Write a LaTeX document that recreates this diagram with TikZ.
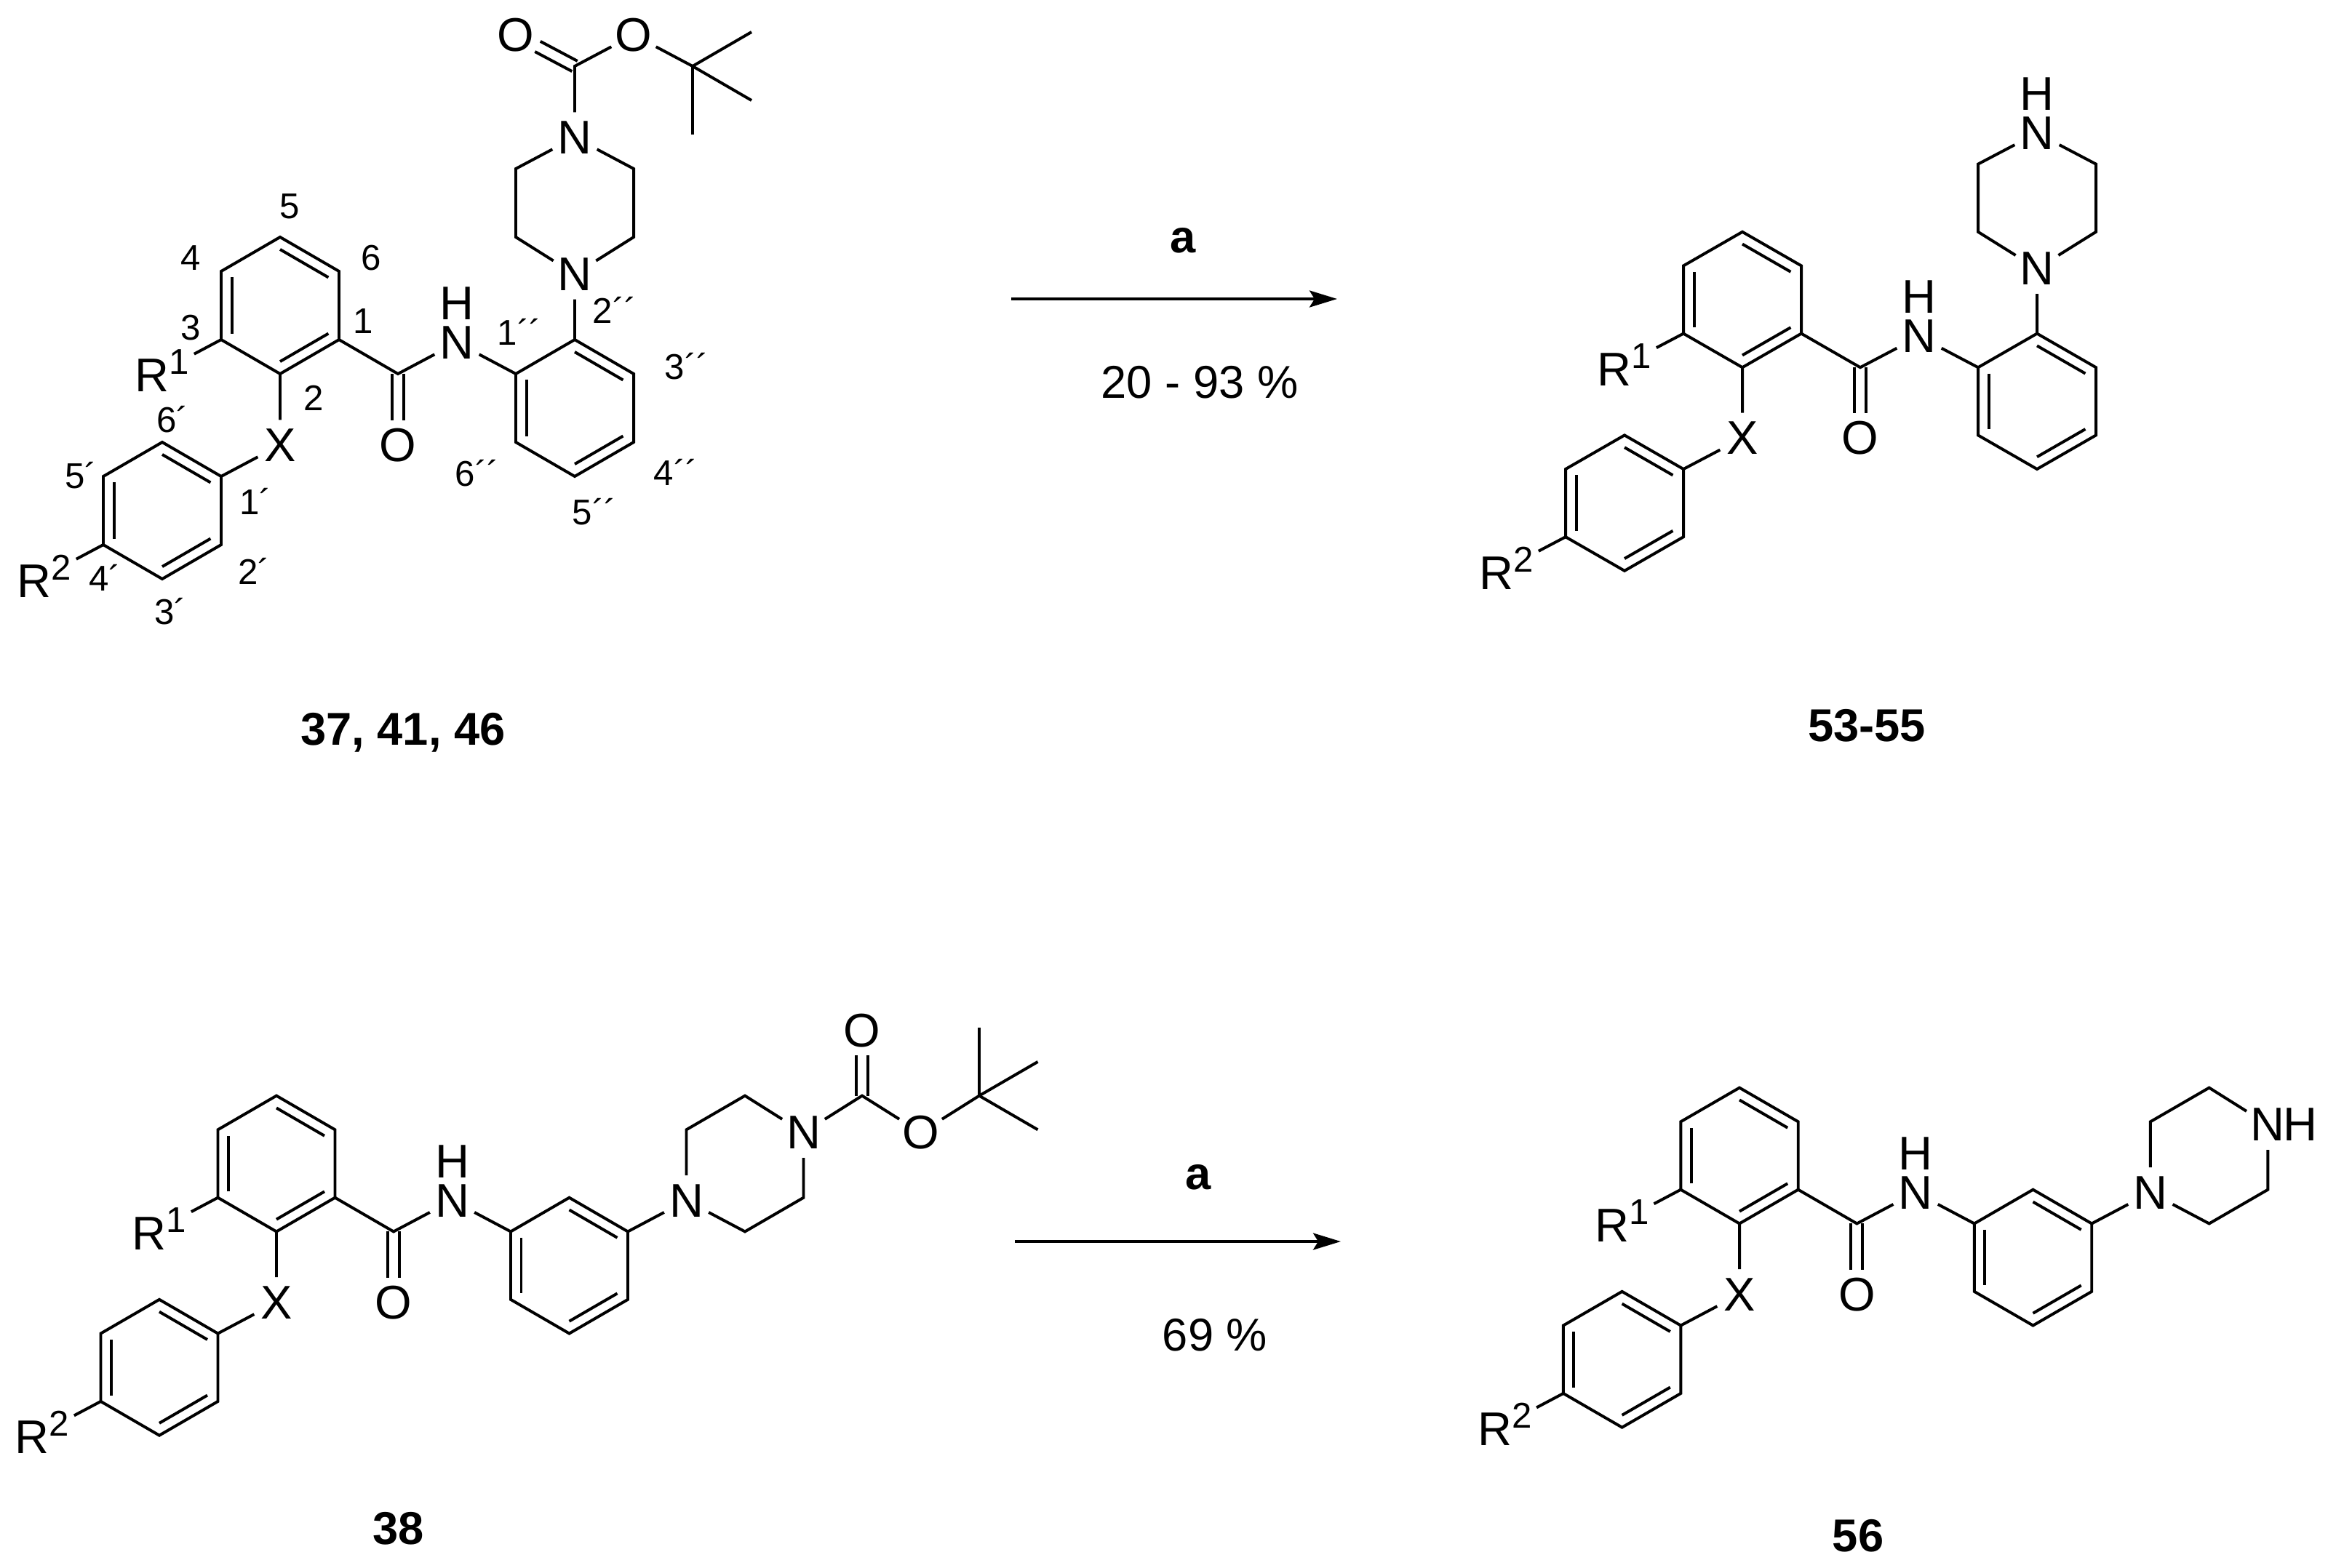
\documentclass[tikz,border=0pt]{standalone}
\usepackage{fontspec}
\setmainfont{Liberation Sans}
\usetikzlibrary{calc,arrows.meta}
\tikzstyle{bond} = [line width=1.13pt, line join=miter]
\tikzstyle{atom} = [circle, inner sep=0pt, minimum size=0.68cm, yshift=-0.04cm, font=\fontsize{18.5}{22}\selectfont]
\tikzstyle{rgroup} = [rectangle, inner sep=0.06cm, yshift=0.04cm, font=\fontsize{18.5}{22}\selectfont]
\tikzstyle{locant} = [inner sep=0pt, font=\fontsize{14}{17}\selectfont]
\tikzstyle{compound} = [inner sep=0pt, font=\fontsize{18}{22}\selectfont\bfseries]
\tikzstyle{yieldtext} = [inner sep=0pt, font=\fontsize{18}{22}\selectfont]
\tikzstyle{line} = [line width=1.13pt, -{Stealth[length=0.38cm,width=0.23cm,inset=0.07cm]}]
\newcommand{\rlabel}[1]{R\raisebox{0.24cm}{\fontsize{14}{17}\selectfont #1}}
\newcommand{\ringbond}[3]{\draw[bond] ($(#1)!0.18!(#3)$) -- ($(#2)!0.18!(#3)$);}
\newcommand{\keto}[2]{
    \draw[bond, shorten >=0.34cm] ($(#1)!0.08cm!90:(#2)$) -- ($(#2)!0.08cm!-90:(#1)$);
    \draw[bond, shorten >=0.34cm] ($(#1)!0.08cm!-90:(#2)$) -- ($(#2)!0.08cm!90:(#1)$);
}
\newcommand{\benzamide}{
    \coordinate (Acen) at (0,0);
    \coordinate (A1) at (1,1);
    \coordinate (A2) at (0,2);
    \coordinate (A3) at (-1,1);
    \coordinate (A4) at (-1,-1);
    \coordinate (A5) at (0,-2);
    \coordinate (A6) at (1,-1);
    \coordinate (Bcen) at (-2,6);
    \coordinate (B1) at (-1,5);
    \coordinate (B2) at (-1,7);
    \coordinate (B3) at (-2,8);
    \coordinate (B4) at (-3,7);
    \coordinate (B5) at (-3,5);
    \coordinate (B6) at (-2,4);
    \coordinate (Ccen) at (5,3);
    \coordinate (C1) at (4,2);
    \coordinate (C2) at (5,1);
    \coordinate (C3) at (6,2);
    \coordinate (C4) at (6,4);
    \coordinate (C5) at (5,5);
    \coordinate (C6) at (4,4);
    \coordinate (Carbonyl) at (2,2);
    \node[atom] (Oxo) at (2,4) {O};
    \node[atom] (Namide) at (3,1) {N};
    \node[atom, above of=Namide, node distance=0.58cm] (Hamide) {H};
    \node[atom] (Link) at (0,4) {X};
    \node[rgroup] (Rone) at (-2,2) {\rlabel{1}};
    \node[rgroup] (Rtwo) at (-4,8) {\rlabel{2}};
    \draw[bond] (A1) -- (A2) -- (A3) -- (A4) -- (A5) -- (A6) -- cycle;
    \draw[bond] (B1) -- (B2) -- (B3) -- (B4) -- (B5) -- (B6) -- cycle;
    \draw[bond] (C1) -- (C2) -- (C3) -- (C4) -- (C5) -- (C6) -- cycle;
    \ringbond{A5}{A6}{Acen}
    \ringbond{A3}{A4}{Acen}
    \ringbond{A1}{A2}{Acen}
    \ringbond{B1}{B6}{Bcen}
    \ringbond{B4}{B5}{Bcen}
    \ringbond{B2}{B3}{Bcen}
    \ringbond{C1}{C6}{Ccen}
    \ringbond{C2}{C3}{Ccen}
    \ringbond{C4}{C5}{Ccen}
    \draw[bond] (A1) -- (Carbonyl) -- (Namide) -- (C1);
    \keto{Carbonyl}{Oxo}
    \draw[bond] (A2) -- (Link) -- (B1);
    \draw[bond] (A3) -- (Rone);
    \draw[bond] (B4) -- (Rtwo);
}
\begin{document}
\begin{tikzpicture}
    \useasboundingbox (0,0) rectangle (32.11,-21.55);

    \begin{scope}[name prefix=boc-, shift={(3.85,-4.20)}, x=0.81cm, y=-0.47cm]
        \benzamide
        \node[atom] (N1) at (5,-1) {N};
        \coordinate (P2) at (6,-2);
        \coordinate (P3) at (6,-4);
        \node[atom] (N4) at (5,-5) {N};
        \coordinate (P5) at (4,-4);
        \coordinate (P6) at (4,-2);
        \coordinate (Cboc) at (5,-7);
        \node[atom] (Oketo) at (4,-8) {O};
        \node[atom] (Oester) at (6,-8) {O};
        \coordinate (Ctbu) at (7,-7);
        \coordinate (Me1) at (8,-8);
        \coordinate (Me2) at (8,-6);
        \coordinate (Me3) at (7,-5);
        \draw[bond] (C2) -- (N1) -- (P2) -- (P3) -- (N4) -- (P5) -- (P6) -- (N1);
        \draw[bond] (N4) -- (Cboc) -- (Oester) -- (Ctbu) -- (Me1);
        \draw[bond] (Ctbu) -- (Me2);
        \draw[bond] (Ctbu) -- (Me3);
        \keto{Cboc}{Oketo}
    \end{scope}

    \begin{scope}[name prefix=free-, shift={(23.95,-4.12)}, x=0.81cm, y=-0.466cm]
        \benzamide
        \node[atom] (N1) at (5,-1) {N};
        \coordinate (P2) at (6,-2);
        \coordinate (P3) at (6,-4);
        \node[atom] (N4) at (5,-5) {N};
        \node[atom, above of=N4, node distance=0.58cm] (H4) {H};
        \coordinate (P5) at (4,-4);
        \coordinate (P6) at (4,-2);
        \draw[bond] (C2) -- (N1) -- (P2) -- (P3) -- (N4) -- (P5) -- (P6) -- (N1);
    \end{scope}

    \begin{scope}[name prefix=metaboc-, shift={(3.80,-16.00)}, x=0.805cm, y=-0.467cm]
        \benzamide
        \node[atom] (N1) at (7,1) {N};
        \coordinate (P2) at (7,-1);
        \coordinate (P3) at (8,-2);
        \node[atom] (N4) at (9,-1) {N};
        \coordinate (P5) at (9,1);
        \coordinate (P6) at (8,2);
        \coordinate (Cboc) at (10,-2);
        \node[atom] (Oketo) at (10,-4) {O};
        \node[atom] (Oester) at (11,-1) {O};
        \coordinate (Ctbu) at (12,-2);
        \coordinate (Me1) at (13,-3);
        \coordinate (Me2) at (13,-1);
        \coordinate (Me3) at (12,-4);
        \draw[bond] (C3) -- (N1) -- (P2) -- (P3) -- (N4) -- (P5) -- (P6) -- (N1);
        \draw[bond] (N4) -- (Cboc) -- (Oester) -- (Ctbu) -- (Me1);
        \draw[bond] (Ctbu) -- (Me2);
        \draw[bond] (Ctbu) -- (Me3);
        \keto{Cboc}{Oketo}
    \end{scope}

    \begin{scope}[name prefix=metafree-, shift={(23.91,-15.89)}, x=0.807cm, y=-0.467cm]
        \benzamide
        \node[atom] (N1) at (7,1) {N};
        \coordinate (P2) at (7,-1);
        \coordinate (P3) at (8,-2);
        \node[atom] (N4) at (9,-1) {N};
        \node[atom, right of=N4, node distance=0.45cm, yshift=0.04cm] (H4) {H};
        \coordinate (P5) at (9,1);
        \coordinate (P6) at (8,2);
        \draw[bond] (C3) -- (N1) -- (P2) -- (P3) -- (N4) -- (P5) -- (P6) -- (N1);
    \end{scope}

    \node[locant] (loc1) at (4.99,-4.42) {1};
    \node[locant] (loc2) at (4.31,-5.47) {2};
    \node[locant] (loc3) at (2.62,-4.51) {3};
    \node[locant] (loc4) at (2.62,-3.55) {4};
    \node[locant] (loc5) at (3.98,-2.84) {5};
    \node[locant] (loc6) at (5.10,-3.55) {6};
    \node[locant] (loc1p) at (3.51,-6.89) {1´};
    \node[locant] (loc2p) at (3.49,-7.85) {2´};
    \node[locant] (loc3p) at (2.34,-8.41) {3´};
    \node[locant] (loc4p) at (1.44,-7.94) {4´};
    \node[locant] (loc5p) at (1.11,-6.54) {5´};
    \node[locant] (loc6p) at (2.37,-5.77) {6´};
    \node[locant] (loc1pp) at (7.14,-4.56) {1´´};
    \node[locant] (loc2pp) at (8.45,-4.26) {2´´};
    \node[locant] (loc3pp) at (9.44,-5.04) {3´´};
    \node[locant] (loc4pp) at (9.29,-6.49) {4´´};
    \node[locant] (loc5pp) at (8.17,-7.04) {5´´};
    \node[locant] (loc6pp) at (6.56,-6.51) {6´´};

    \coordinate (arrowTopStart) at (13.90,-4.11);
    \coordinate (arrowTopEnd) at (18.38,-4.11);
    \draw[line] (arrowTopStart) -- (arrowTopEnd);
    \node[compound] (reagentTop) at (16.26,-3.31) {a};
    \node[yieldtext] (yieldTop) at (16.49,-5.26) {20 - 93 \%};

    \coordinate (arrowBottomStart) at (13.95,-17.07);
    \coordinate (arrowBottomEnd) at (18.43,-17.07);
    \draw[line] (arrowBottomStart) -- (arrowBottomEnd);
    \node[compound] (reagentBottom) at (16.47,-16.19) {a};
    \node[yieldtext] (yieldBottom) at (16.70,-18.36) {69 \%};

    \node[compound] (labelBoc) at (5.54,-10.07) {37, 41, 46};
    \node[compound] (labelFree) at (25.66,-9.98) {53-55};
    \node[compound] (labelMetaBoc) at (5.48,-21.02) {38};
    \node[compound] (labelMetaFree) at (25.54,-21.12) {56};
\end{tikzpicture}
\end{document}
